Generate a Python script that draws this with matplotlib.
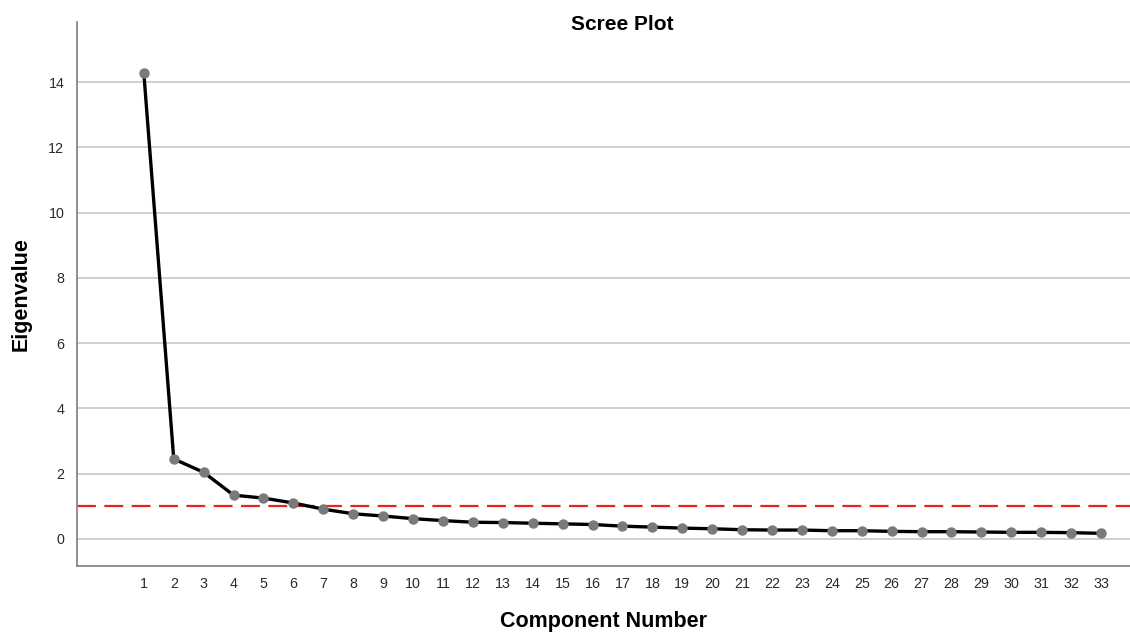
import numpy as np
from matplotlib import pyplot as plt

plt.rcParams['font.family'] = ['Liberation Sans', 'DejaVu Sans']

# eigenvalues
components = list(range(1, 34))
eigenvalues = [14.27, 2.45, 2.04, 1.34, 1.25, 1.10, 0.91, 0.77, 0.70, 0.62,
               0.56, 0.51, 0.50, 0.48, 0.46, 0.44, 0.39, 0.36, 0.33, 0.31,
               0.28, 0.27, 0.27, 0.25, 0.25, 0.23, 0.22, 0.22, 0.21, 0.20,
               0.20, 0.19, 0.17]
y_ticks = [0, 2, 4, 6, 8, 10, 12, 14]
cutoff = 1.0

fig = plt.figure(figsize=(11.3, 6.32), dpi=100)
ax = fig.add_axes([0.068, 0.104, 0.932, 0.861])

# grid lines
for t in y_ticks:
    ax.axhline(t, color='#cfcfcf', lw=1.4, zorder=1)

# kaiser line
ax.axhline(cutoff, color='#e8231c', lw=1.6, dashes=(8.5, 3.8), zorder=2)

ax.plot(components, eigenvalues, color='black', lw=2.4, zorder=3)
ax.plot(components, eigenvalues, 'o', color='#7a7a7a', ms=6.5, mec='#7a7a7a', zorder=4)

ax.set_xlim(-1.24, 33.97)
ax.set_ylim(-0.84, 15.84)
ax.set_xticks(components)
ax.set_yticks(y_ticks)
ax.tick_params(length=0, labelsize=10.3, labelcolor='#2a2a2a')
ax.tick_params(axis='x', pad=8)
ax.tick_params(axis='y', pad=9)

for s in ['top', 'right']:
    ax.spines[s].set_visible(False)
for s in ['left', 'bottom']:
    ax.spines[s].set_color('#888888')
    ax.spines[s].set_linewidth(1.3)

ax.set_xlabel('Component Number', fontsize=15.5, fontweight='bold', labelpad=14)
ax.set_ylabel('Eigenvalue', fontsize=15.5, fontweight='bold', labelpad=12)
fig.text(0.551, 0.962, 'Scree Plot', fontsize=15, fontweight='bold', ha='center', va='center')

plt.savefig('out.png')
